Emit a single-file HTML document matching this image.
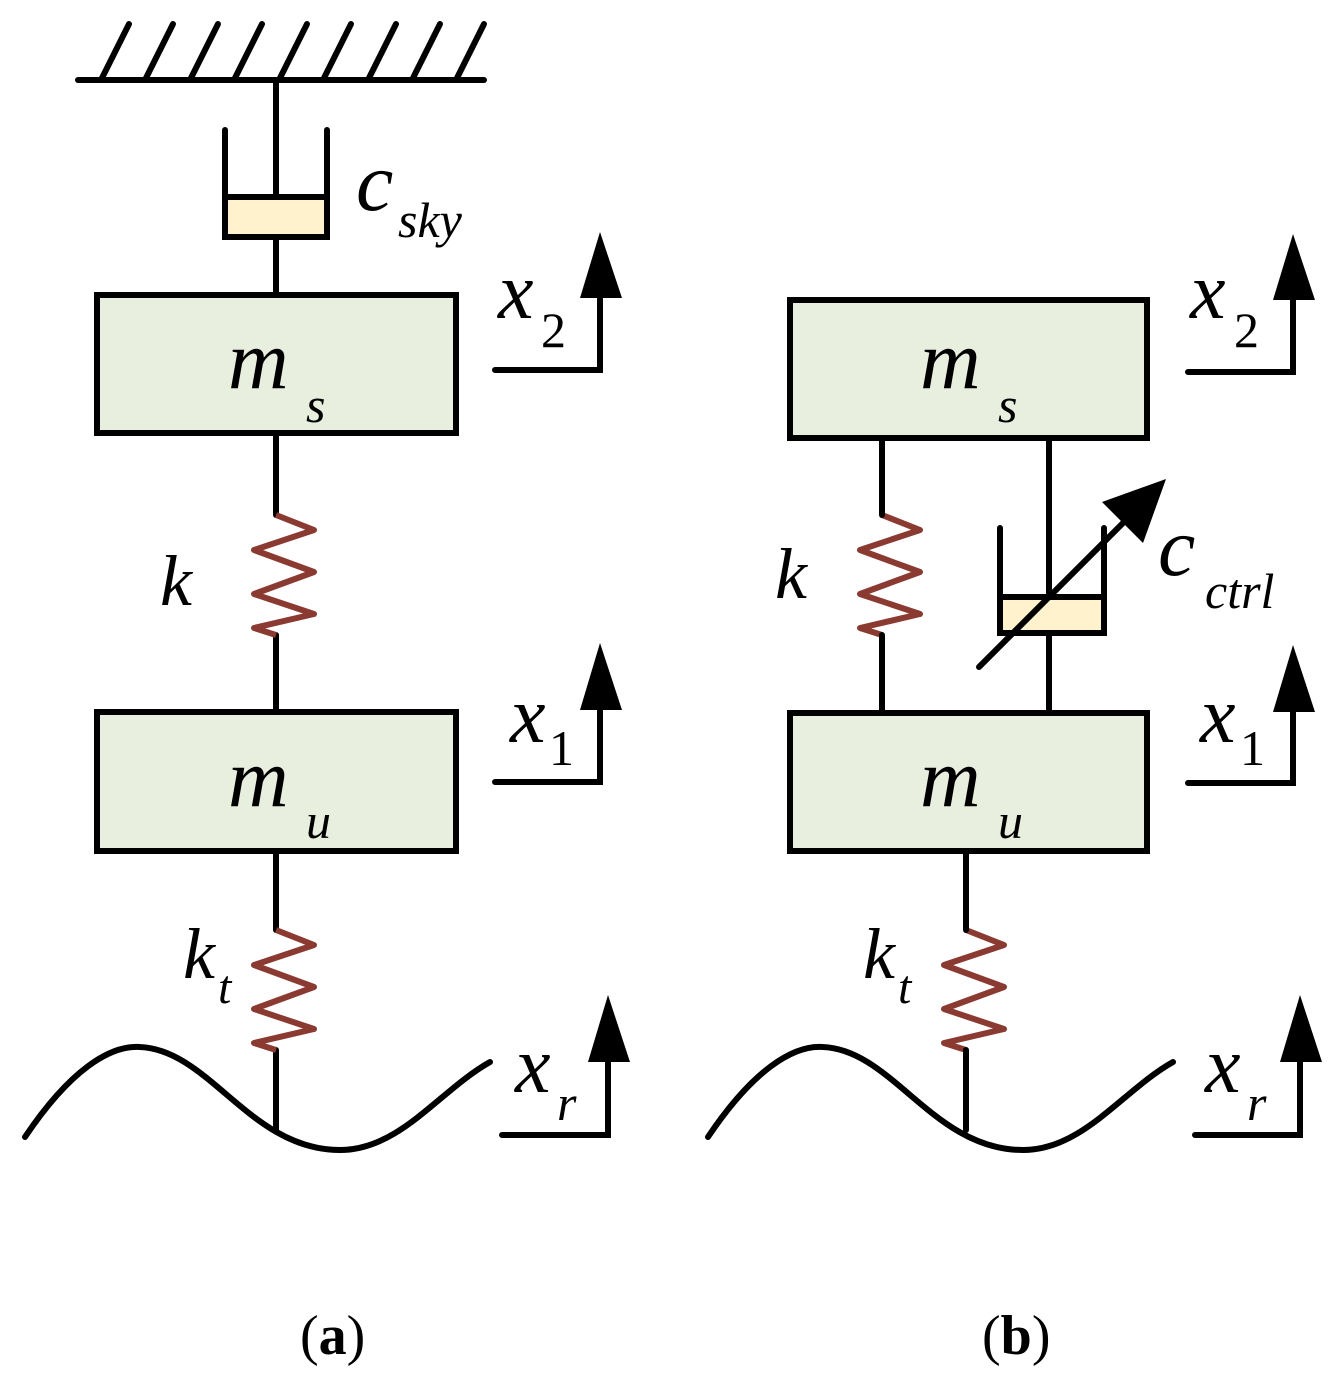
<!DOCTYPE html>
<html><head><meta charset="utf-8"><style>body{margin:0;background:#fff}svg{display:block}</style></head><body>
<svg width="1339" height="1390" viewBox="0 0 1339 1390" xmlns="http://www.w3.org/2000/svg" font-family="Liberation Serif, serif">
<g stroke="#000" stroke-width="6" stroke-linecap="round" fill="none">
<line x1="78" y1="80" x2="484" y2="80"/>
<line x1="102" y1="78" x2="129" y2="24"/><line x1="146" y1="78" x2="173" y2="24"/><line x1="191" y1="78" x2="218" y2="24"/><line x1="235" y1="78" x2="262" y2="24"/><line x1="280" y1="78" x2="307" y2="24"/><line x1="324" y1="78" x2="351" y2="24"/><line x1="369" y1="78" x2="396" y2="24"/><line x1="413" y1="78" x2="440" y2="24"/><line x1="457" y1="78" x2="484" y2="24"/>
<line x1="276" y1="80" x2="276" y2="197"/>
</g>
<rect x="225" y="197" width="102" height="40" fill="#fff2cc"/>
<g stroke="#000" stroke-width="6" stroke-linecap="round" fill="none">
<polyline points="225,130 225,237 327,237 327,130"/>
<line x1="225" y1="197" x2="327" y2="197"/>
<line x1="276" y1="237" x2="276" y2="295"/>
<rect x="97" y="295" width="359" height="138" fill="#e8efdf"/>
<line x1="276" y1="433" x2="276" y2="515"/>
<line x1="276" y1="635" x2="276" y2="712"/>
<rect x="97" y="712" width="359" height="139" fill="#e8efdf"/>
<line x1="276" y1="851" x2="276" y2="930"/>
<line x1="276" y1="1050" x2="276" y2="1130"/>
<path d="M25,1137 C70,1070 110,1045 140,1047 C210,1050 250,1150 340,1150 C400,1150 440,1090 490,1062"/>
<polyline points="495,370 600,370 600,295"/><polyline points="495,782 600,782 600,705"/><polyline points="502,1135 608,1135 608,1058"/>
</g>
<g stroke="#8b3a32" stroke-width="6" fill="none" stroke-linejoin="round">
<polyline points="276,515 314,530 254,550 314,572 254,594 314,614 254,628 276,635"/>
<polyline points="276,930 314,945 254,965 314,987 254,1009 314,1029 254,1043 276,1050"/>
<polyline points="882,515 920,530 860,550 920,572 860,594 920,614 860,628 882,635"/>
<polyline points="966,930 1004,945 944,965 1004,987 944,1009 1004,1029 944,1043 966,1050"/>
</g>
<g fill="#000">
<polygon points="600,232 580,298 622,298"/><polygon points="600,643 580,710 622,710"/><polygon points="608,995 588,1062 630,1062"/>
<polygon points="1293,234 1273,300 1315,300"/><polygon points="1293,645 1273,712 1315,712"/><polygon points="1300,995 1280,1062 1322,1062"/>
</g>
<rect x="1000" y="597" width="104" height="36" fill="#fff2cc"/>
<g stroke="#000" stroke-width="6" stroke-linecap="round" fill="none">
<rect x="790" y="300" width="357" height="138" fill="#e8efdf"/>
<rect x="790" y="713" width="357" height="138" fill="#e8efdf"/>
<line x1="882" y1="438" x2="882" y2="515"/><line x1="882" y1="635" x2="882" y2="713"/>
<line x1="1049" y1="438" x2="1049" y2="597"/><line x1="1049" y1="633" x2="1049" y2="713"/>
<polyline points="1000,528 1000,633 1104,633 1104,528"/>
<line x1="1000" y1="597" x2="1104" y2="597"/>
<line x1="979" y1="667" x2="1130" y2="516"/>
<line x1="966" y1="851" x2="966" y2="930"/><line x1="966" y1="1050" x2="966" y2="1130"/>
<path d="M708,1137 C753,1070 793,1045 823,1047 C893,1050 933,1150 1023,1150 C1083,1150 1123,1090 1173,1062"/>
<polyline points="1188,372 1293,372 1293,297"/><polyline points="1188,783 1293,783 1293,707"/><polyline points="1195,1135 1300,1135 1300,1058"/>
</g>
<polygon points="1166,479 1143,543 1102,502" fill="#000"/>
<g font-style="italic" fill="#000">
<text x="228" y="388" font-size="84">m</text><text x="306" y="422" font-size="50">s</text>
<text x="228" y="806" font-size="84">m</text><text x="306" y="838" font-size="50">u</text>
<text x="920" y="388" font-size="84">m</text><text x="998" y="422" font-size="50">s</text>
<text x="920" y="806" font-size="84">m</text><text x="998" y="838" font-size="50">u</text>
<text x="356" y="210" font-size="84">c</text><text x="398" y="237" font-size="50">sky</text>
<text x="1158" y="575" font-size="84">c</text><text x="1205" y="608" font-size="50">ctrl</text>
<text x="160" y="605" font-size="72">k</text><text x="775" y="598" font-size="72">k</text>
<text x="183" y="978" font-size="72">k</text><text x="218" y="1003" font-size="48">t</text>
<text x="863" y="978" font-size="72">k</text><text x="898" y="1003" font-size="48">t</text>
<text x="498" y="318" font-size="80">x</text>
<text x="510" y="742" font-size="80">x</text>
<text x="515" y="1092" font-size="80">x</text><text x="557" y="1120" font-size="50">r</text>
<text x="1190" y="318" font-size="80">x</text>
<text x="1200" y="742" font-size="80">x</text>
<text x="1205" y="1092" font-size="80">x</text><text x="1247" y="1120" font-size="50">r</text>
</g>
<g fill="#000" font-size="50">
<text x="541" y="347">2</text><text x="549" y="765">1</text>
<text x="1234" y="347">2</text><text x="1240" y="765">1</text>
</g>
<g font-size="56" fill="#000">
<text x="300" y="1354">(<tspan font-weight="bold">a</tspan>)</text>
<text x="982" y="1354">(<tspan font-weight="bold">b</tspan>)</text>
</g>
</svg>
</body></html>
